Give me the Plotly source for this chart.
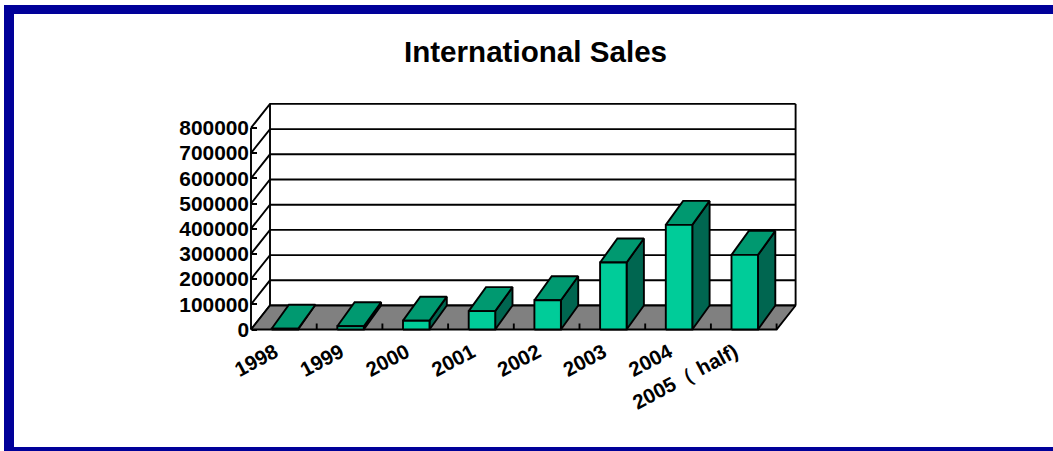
import plotly.graph_objects as go

# Sales figures per year
years = ["1998", "1999", "2000", "2001", "2002", "2003", "2004", "2005（ half)"]
sales = [3000, 13000, 35000, 73000, 116000, 266000, 415000, 296000]
value_ticks = [0, 100000, 200000, 300000, 400000, 500000, 600000, 700000, 800000]

# Canvas and the projection of the chart box onto it
W, H = 1053, 451
LEFT_PX, FLOOR_PX = 251.0, 329.5
CAT_PX, UNIT_PX = 65.7, 25.2 / 100000
DEPTH_X = 19 / CAT_PX           # wall depth in category units
DEPTH_Y = 24 / UNIT_PX          # wall depth in value units
BAR_DX = 17.3 / CAT_PX
BAR_W = 26.5 / CAT_PX
BAR_SHIFT = 1.0 / CAT_PX
LABEL_SHIFT = 9 / CAT_PX        # rotated labels end left of the category centre
TOP_VALUE = value_ticks[-1]
N = len(years)

BLACK = "#000000"
FRONT, TOP, SIDE = "#00CC99", "#009970", "#006650"
FLOOR = "#808080"
NAVY = "#000099"
FONT = "Liberation Sans"
LW = 1.9


def poly(xs, ys, fill):
    return go.Scatter(
        x=xs + xs[:1], y=ys + ys[:1], mode="lines", fill="toself", fillcolor=fill,
        line=dict(color=BLACK, width=LW), hoverinfo="skip", showlegend=False,
        cliponaxis=False,
    )


def line(xs, ys, width=LW):
    return go.Scatter(
        x=xs, y=ys, mode="lines", line=dict(color=BLACK, width=width),
        hoverinfo="skip", showlegend=False, cliponaxis=False,
    )


fig = go.Figure()

# Back wall gridlines and the left wall diagonals
for v in value_ticks:
    fig.add_trace(line([0, DEPTH_X, N + DEPTH_X], [v, v + DEPTH_Y, v + DEPTH_Y]))
fig.add_trace(line([DEPTH_X, DEPTH_X], [DEPTH_Y, TOP_VALUE + DEPTH_Y]))
fig.add_trace(line([N + DEPTH_X, N + DEPTH_X], [DEPTH_Y, TOP_VALUE + DEPTH_Y]))
fig.add_trace(line([0, 0], [0, TOP_VALUE]))

# Floor and the category separators
fig.add_trace(poly([0, N, N + DEPTH_X, DEPTH_X], [0, 0, DEPTH_Y, DEPTH_Y], FLOOR))
for i in range(1, N + 1):
    fig.add_trace(line([i, i], [0, 6 / UNIT_PX]))

# Bars: front, top and side faces
for i, v in enumerate(sales):
    x0 = i + 0.5 - BAR_W / 2 + BAR_SHIFT
    x1 = x0 + BAR_W
    fig.add_trace(poly([x1, x1 + BAR_DX, x1 + BAR_DX, x1], [0, DEPTH_Y, v + DEPTH_Y, v], SIDE))
    fig.add_trace(poly([x0, x1, x1 + BAR_DX, x0 + BAR_DX], [v, v, v + DEPTH_Y, v + DEPTH_Y], TOP))
    fig.add_trace(poly([x0, x1, x1, x0], [0, 0, v, v], FRONT))

fig.update_layout(
    width=W, height=H, margin=dict(l=0, r=0, t=0, b=0),
    paper_bgcolor="white", plot_bgcolor="white", showlegend=False,
    font=dict(family=FONT, color=BLACK),
    title=dict(
        text="<b>International Sales</b>", x=535.5 / W, xref="paper", xanchor="center",
        y=1 - 52 / H, yref="container", yanchor="middle",
        font=dict(family=FONT, size=29.6, color=BLACK),
    ),
    xaxis=dict(
        range=[-LEFT_PX / CAT_PX, (W - LEFT_PX) / CAT_PX], domain=[0, 1],
        anchor="free", position=1 - FLOOR_PX / H,
        tickmode="array", tickvals=[i + 0.5 - LABEL_SHIFT for i in range(N)], ticktext=years,
        tickangle=-28, ticks="", showgrid=False, zeroline=False, showline=False,
        tickfont=dict(family=FONT, size=20.5, weight="bold", color=BLACK),
        ticklabelstandoff=6, fixedrange=True,
    ),
    yaxis=dict(
        range=[(FLOOR_PX - H) / UNIT_PX, FLOOR_PX / UNIT_PX], domain=[0, 1],
        anchor="free", position=LEFT_PX / W,
        tickmode="array", tickvals=value_ticks, ticktext=[str(v) for v in value_ticks],
        ticks="inside", ticklen=5, tickwidth=LW, tickcolor=BLACK,
        showgrid=False, zeroline=False, showline=False,
        tickfont=dict(family=FONT, size=20.9, weight="bold", color=BLACK),
        ticklabelstandoff=2, fixedrange=True,
    ),
    shapes=[
        dict(type="rect", xref="paper", yref="paper", x0=4 / W, x1=1, y0=1 - 14 / H, y1=1 - 5 / H,
             fillcolor=NAVY, line_width=0),
        dict(type="rect", xref="paper", yref="paper", x0=4 / W, x1=14 / W, y0=0, y1=1 - 5 / H,
             fillcolor=NAVY, line_width=0),
        dict(type="rect", xref="paper", yref="paper", x0=4 / W, x1=1, y0=0, y1=4 / H,
             fillcolor=NAVY, line_width=0),
    ],
)

fig.write_html("out.html", config=dict(displayModeBar=False))
